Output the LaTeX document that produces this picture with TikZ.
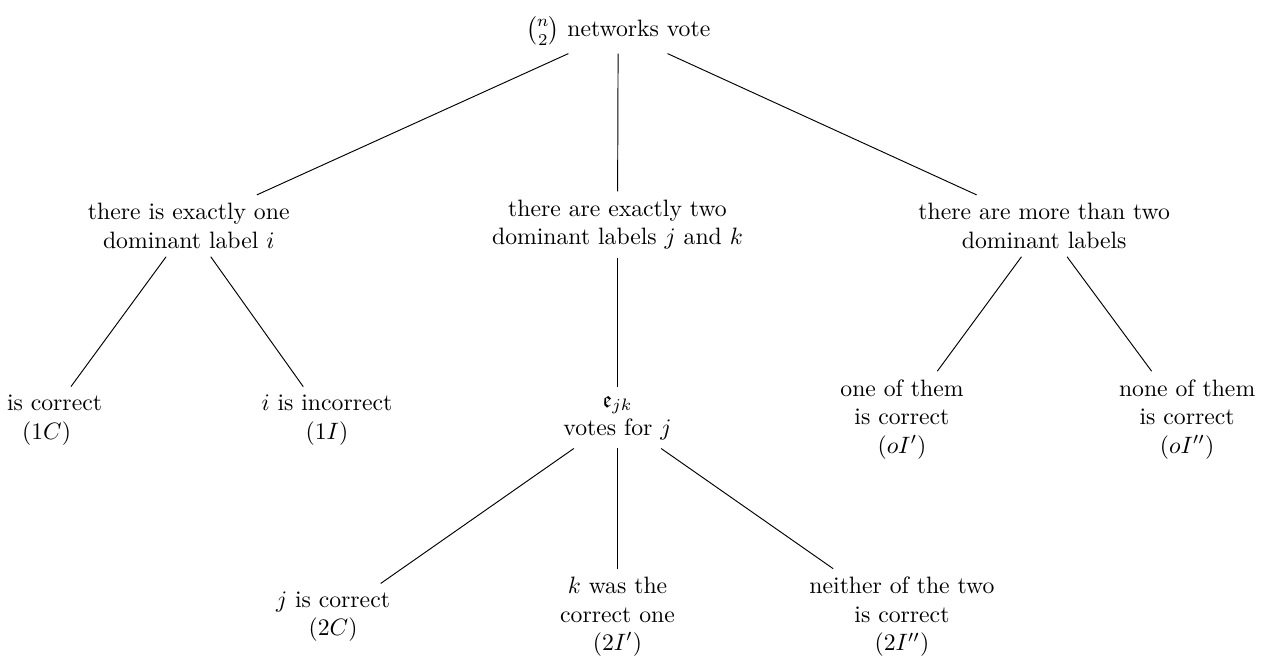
\documentclass[tikz,border=0pt]{standalone}
\usepackage{amsmath,amssymb,amsfonts}
\usetikzlibrary{positioning}
\tikzset{vote/.style={align=center}}
\begin{document}
\begin{tikzpicture}
\useasboundingbox (0,0) rectangle (18.78,-9.73);
% Racine
\node[vote] (root) at (9.17,-0.46) {$\binom{n}{2}$ networks vote};
% Niveau 1
\node[vote] (one) at (2.80,-3.35) {there is exactly one\\dominant label $i$};
\node[vote] (two) at (9.16,-3.33) {there are exactly two\\dominant labels $j$ and $k$};
\node[vote] (more) at (15.49,-3.35) {there are more than two\\dominant labels};
% Niveau 2
\node[vote] (oneC) at (0.69,-6.23) {$i$ is correct\\$(1C)$};
\node[vote] (oneI) at (4.85,-6.23) {$i$ is incorrect\\$(1I)$};
\node[vote] (expert) at (9.16,-6.20) {$\mathfrak{e}_{jk}$\\votes for $j$};
\node[vote] (moreI) at (13.38,-6.22) {one of them\\is correct\\$(oI')$};
\node[vote] (moreII) at (17.61,-6.22) {none of them\\is correct\\$(oI'')$};
% Niveau 3
\node[vote] (twoC) at (4.94,-9.15) {$j$ is correct\\$(2C)$};
\node[vote] (twoI) at (9.16,-9.15) {$k$ was the\\correct one\\$(2I')$};
\node[vote] (twoII) at (13.38,-9.15) {neither of the two\\is correct\\$(2I'')$};
% Segments
\draw (root) -- (one);
\draw (root) -- (two);
\draw (root) -- (more);
\draw (one) -- (oneC);
\draw (one) -- (oneI);
\draw (two) -- (expert);
\draw (more) -- (moreI);
\draw (more) -- (moreII);
\draw (expert) -- (twoC);
\draw (expert) -- (twoI);
\draw (expert) -- (twoII);
\end{tikzpicture}
\end{document}
